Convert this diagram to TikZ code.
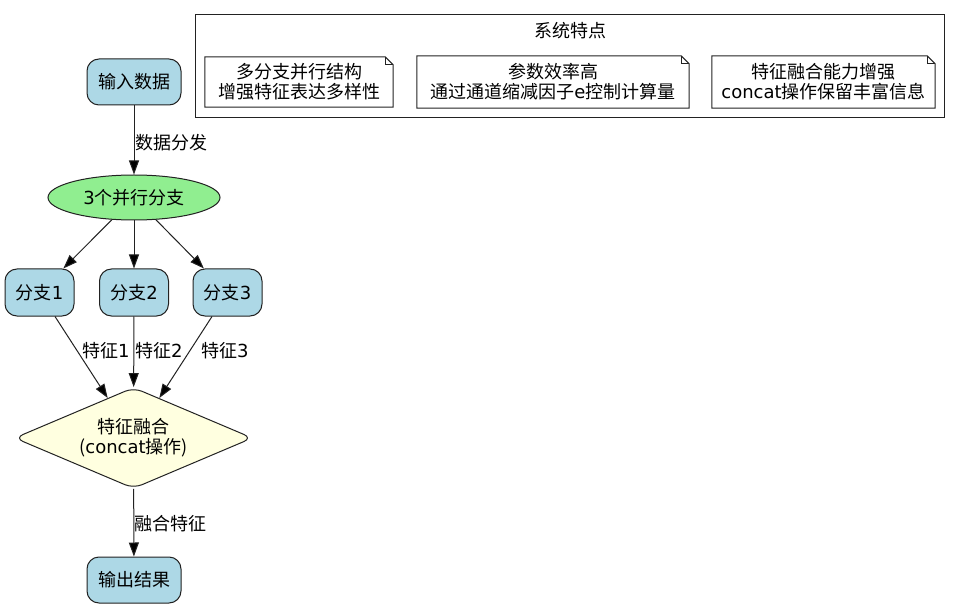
\documentclass[tikz,border=0pt]{standalone}
\usepackage{fontspec}
\setmainfont{Noto Sans CJK SC}
\newfontfamily\lat{DejaVu Sans}
\usetikzlibrary{shapes.geometric,arrows.meta}
\definecolor{lb}{HTML}{ADD8E6}
\definecolor{lg}{HTML}{90EE90}
\definecolor{ly}{HTML}{FFFFE0}
\definecolor{ln}{HTML}{222222}
\newcommand\drawnote[1]{%
  \draw[nb] (#1.south west) -- (#1.north west) -- ([xshift=-8pt]#1.north east)
    -- ([yshift=-8pt]#1.north east) -- (#1.south east) -- cycle;
  \draw[nb] ([xshift=-8pt]#1.north east) -- ([xshift=-8pt,yshift=-8pt]#1.north east)
    -- ([yshift=-8pt]#1.north east);}
\begin{document}
\begin{tikzpicture}[x=1pt,y=-1pt,
  font=\fontsize{18}{20}\selectfont,
  box/.style={draw=ln, fill=lb, line width=1pt, rounded corners=12pt,
    minimum width=69pt, minimum height=47pt, inner sep=0pt},
  bigbox/.style={box, minimum width=94pt, minimum height=46pt},
  edge/.style={draw=ln, line width=1pt, -{Triangle[length=14pt,width=10pt,fill=black]}},
  lbl/.style={anchor=west, inner sep=0pt},
  note/.style={fill=white, inner sep=0pt, align=center, minimum height=52pt},
  nb/.style={draw=ln, line width=1pt},
]
\useasboundingbox (0,0) rectangle (960,609);
\fill[white] (0,0) rectangle (960,609);

% cluster
\node[draw=ln, line width=1pt, minimum width=749pt, minimum height=103pt, inner sep=0pt] (cl) at (569.5,66.5) {};
\node (clt) at (570,31) {系统特点};
\node[note, minimum width=188pt, minimum height=50pt] (n1) at (299,82) {多分支并行结构\\增强特征表达多样性};
\drawnote{n1}
\node[note, minimum width=272pt] (n2) at (553,82) {参数效率高\\通过通道缩减因子{\lat e}控制计算量};
\drawnote{n2}
\node[note, minimum width=223pt] (n3) at (823.5,82) {特征融合能力增强\\{\lat concat}操作保留丰富信息};
\drawnote{n3}

% flow
\node[bigbox] (in) at (134,82) {输入数据};
\node[ellipse, draw=ln, fill=lg, line width=1pt, minimum width=172pt, minimum height=45pt, inner sep=0pt] (split) at (134,197.5) {{\lat 3}个并行分支};
\node[box] (b1) at (39.5,292.5) {分支{\lat 1}};
\node[box] (b2) at (134,292.5) {分支{\lat 2}};
\node[box] (b3) at (227.5,292.5) {分支{\lat 3}};
\node[diamond, aspect=2.35, draw=ln, fill=ly, line width=1pt, rounded corners=9pt,
  minimum width=238pt, minimum height=101pt, inner sep=0pt, align=center] (fuse) at (133.5,438)
  {特征融合\\({\lat concat}操作)};
\node[bigbox] (out) at (134,580) {输出结果};

\draw[edge] (in) -- (split);
\draw[edge] (split) -- (b1);
\draw[edge] (split) -- (b2);
\draw[edge] (split) -- (b3);
\draw[edge] (b1) -- (fuse);
\draw[edge] (b2) -- (fuse);
\draw[edge] (b3) -- (fuse);
\draw[edge] (fuse) -- (out);

\node[lbl] (l0) at (135,143) {数据分发};
\node[lbl] (l1) at (82,351) {特征{\lat 1}};
\node[lbl] (l2) at (135,351) {特征{\lat 2}};
\node[lbl] (l3) at (201,351) {特征{\lat 3}};
\node[lbl] (l4) at (134,524) {融合特征};
\end{tikzpicture}
\end{document}
